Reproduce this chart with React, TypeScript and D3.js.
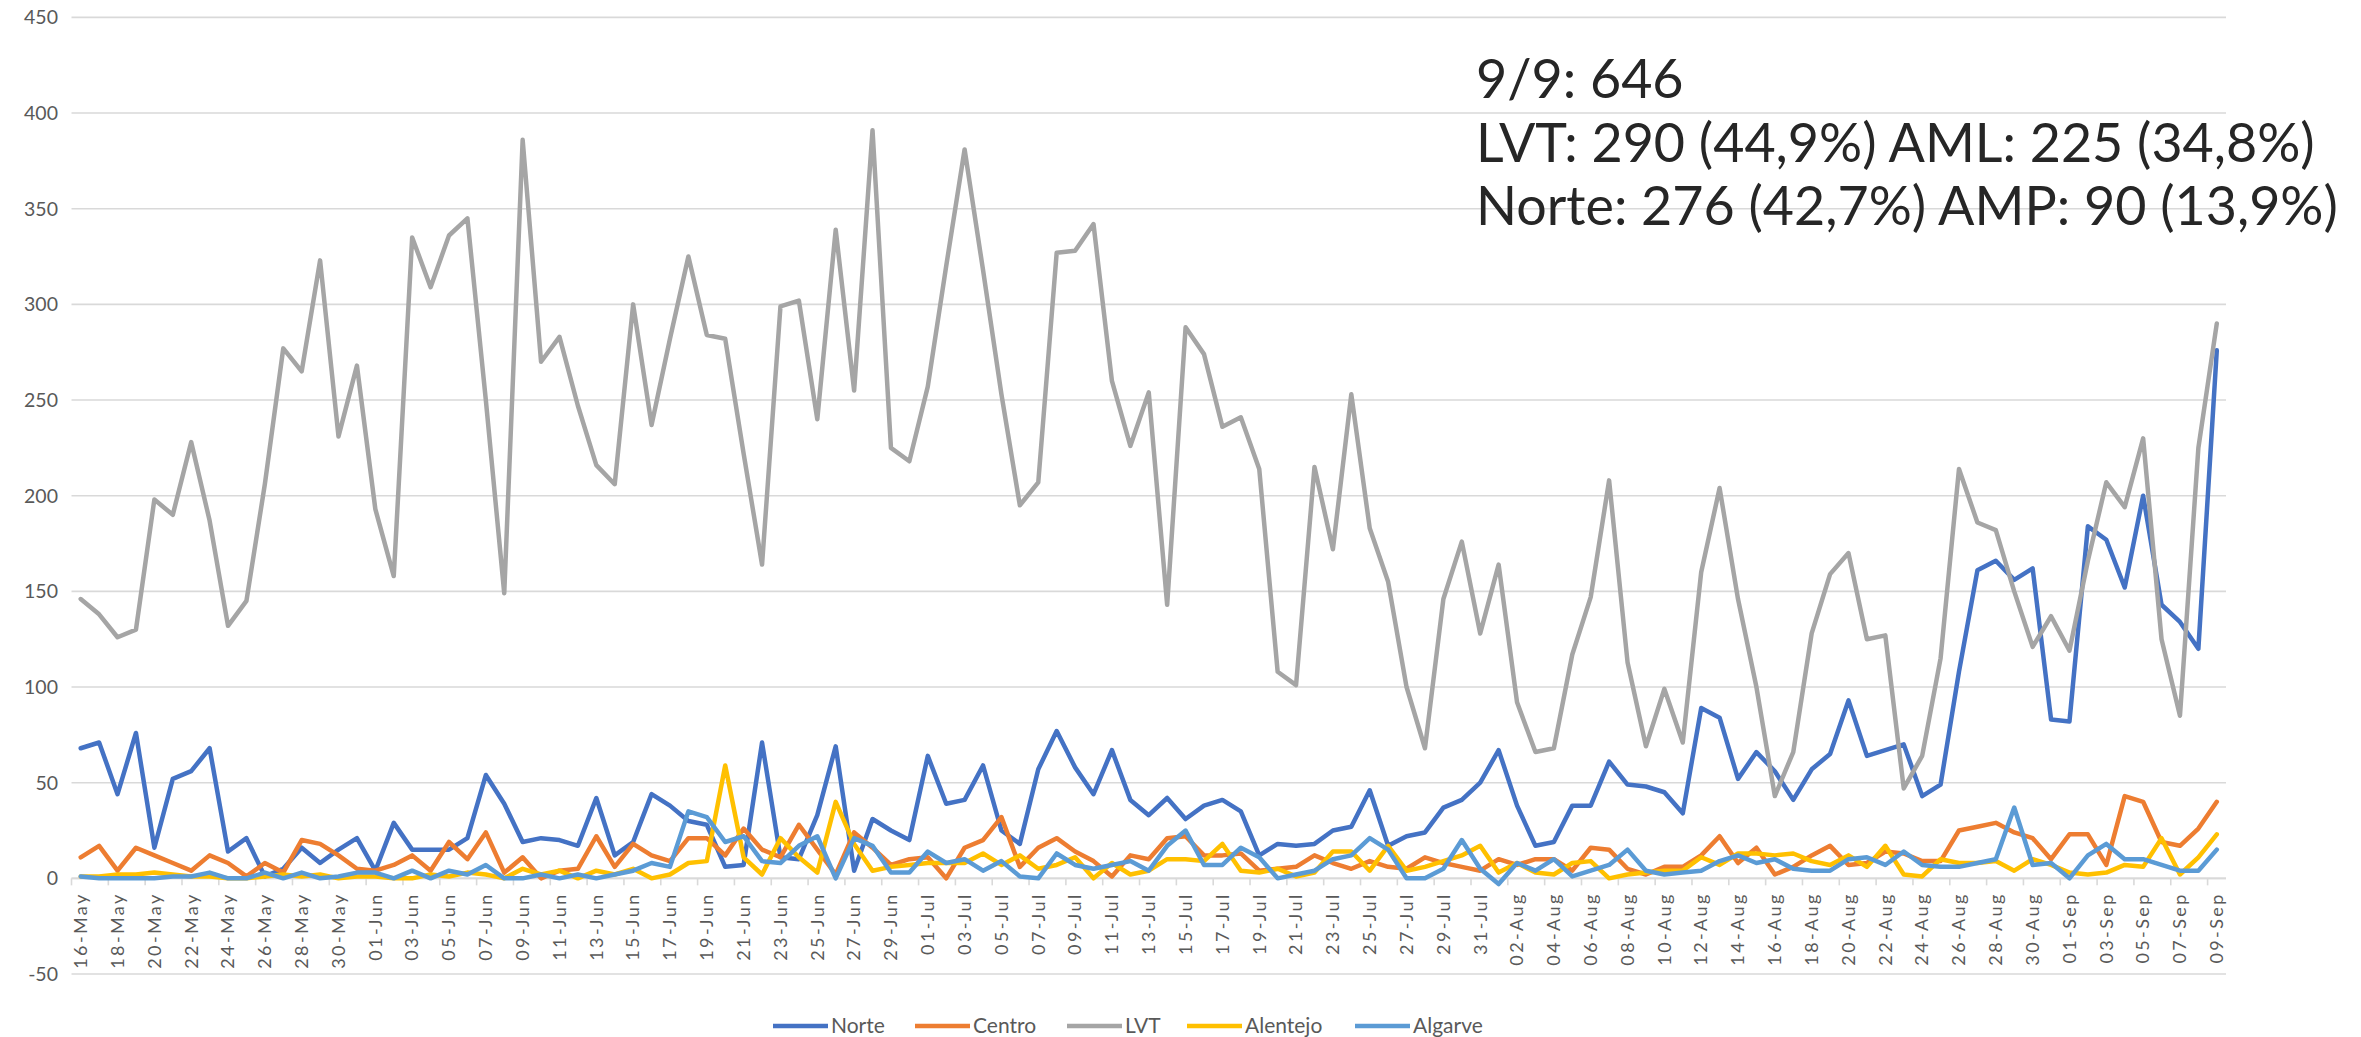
import React from "react";
import * as d3 from "d3";

// categories (one per day, 16 May - 9 Sep)
const dates = [
  "16-May", "17-May", "18-May", "19-May", "20-May", "21-May", "22-May", "23-May", "24-May", "25-May", "26-May", "27-May", "28-May", "29-May", "30-May", "31-May",
  "01-Jun", "02-Jun", "03-Jun", "04-Jun", "05-Jun", "06-Jun", "07-Jun", "08-Jun", "09-Jun", "10-Jun", "11-Jun", "12-Jun", "13-Jun", "14-Jun", "15-Jun",
  "16-Jun", "17-Jun", "18-Jun", "19-Jun", "20-Jun", "21-Jun", "22-Jun", "23-Jun", "24-Jun", "25-Jun", "26-Jun", "27-Jun", "28-Jun", "29-Jun", "30-Jun",
  "01-Jul", "02-Jul", "03-Jul", "04-Jul", "05-Jul", "06-Jul", "07-Jul", "08-Jul", "09-Jul", "10-Jul", "11-Jul", "12-Jul", "13-Jul", "14-Jul", "15-Jul",
  "16-Jul", "17-Jul", "18-Jul", "19-Jul", "20-Jul", "21-Jul", "22-Jul", "23-Jul", "24-Jul", "25-Jul", "26-Jul", "27-Jul", "28-Jul", "29-Jul", "30-Jul", "31-Jul",
  "01-Aug", "02-Aug", "03-Aug", "04-Aug", "05-Aug", "06-Aug", "07-Aug", "08-Aug", "09-Aug", "10-Aug", "11-Aug", "12-Aug", "13-Aug", "14-Aug", "15-Aug",
  "16-Aug", "17-Aug", "18-Aug", "19-Aug", "20-Aug", "21-Aug", "22-Aug", "23-Aug", "24-Aug", "25-Aug", "26-Aug", "27-Aug", "28-Aug", "29-Aug", "30-Aug", "31-Aug",
  "01-Sep", "02-Sep", "03-Sep", "04-Sep", "05-Sep", "06-Sep", "07-Sep", "08-Sep", "09-Sep",
];

const norte = [
  68, 71, 44, 76, 16, 52, 56, 68, 14, 21, 1, 5, 16, 8, 15, 21,
  4, 29, 15, 15, 15, 21, 54, 39, 19, 21, 20, 17, 42, 12, 19, 44, 38, 30, 28, 6, 7, 71, 11, 10, 33, 69, 4, 31, 25, 20,
  64, 39, 41, 59, 25, 18, 57, 77, 58, 44, 67, 41, 33, 42, 31, 38, 41, 35, 12, 18, 17, 18, 25, 27, 46, 17, 22, 24, 37, 41, 50,
  67, 38, 17, 19, 38, 38, 61, 49, 48, 45, 34, 89, 84, 52, 66, 56, 41, 57, 65, 93, 64, 67, 70, 43, 49, 108, 161, 166, 156, 162, 83,
  82, 184, 177, 152, 200, 143, 134, 120, 276,
];
const centro = [
  11, 17, 4, 16, 12, 8, 4, 12, 8, 1, 8, 3, 20, 18, 12, 5,
  4, 7, 12, 4, 19, 10, 24, 3, 11, 0, 4, 5, 22, 6, 18, 12, 9, 21, 21, 12, 26, 15, 11, 28, 15, 2, 24, 16, 7, 10,
  11, 0, 16, 20, 32, 6, 16, 21, 14, 9, 1, 12, 10, 21, 22, 12, 12, 13, 4, 5, 6, 12, 8, 5, 9, 6, 5, 11, 8, 6, 4,
  10, 7, 10, 10, 4, 16, 15, 5, 2, 6, 6, 12, 22, 8, 16, 2, 6, 12, 17, 7, 8, 14, 13, 9, 9, 25, 27, 29, 24, 21, 10,
  23, 23, 7, 43, 40, 19, 17, 26, 40,
];
const lvt = [
  146, 138, 126, 130, 198, 190, 228, 187, 132, 145, 206, 277, 265, 323, 231, 268,
  193, 158, 335, 309, 336, 345, 250, 149, 386, 270, 283, 247, 216, 206, 300, 237, 282, 325, 284, 282, 222, 164, 299, 302, 240, 339, 255, 391, 225, 218,
  257, 320, 381, 318, 253, 195, 207, 327, 328, 342, 260, 226, 254, 143, 288, 274, 236, 241, 214, 108, 101, 215, 172, 253, 183, 155, 100, 68, 146, 176, 128,
  164, 92, 66, 68, 117, 147, 208, 113, 69, 99, 71, 160, 204, 146, 100, 43, 66, 128, 159, 170, 125, 127, 47, 64, 115, 214, 186, 182, 150, 121, 137,
  119, 166, 207, 194, 230, 125, 85, 225, 290,
];
const alentejo = [
  1, 1, 2, 2, 3, 2, 1, 1, 0, 0, 1, 2, 1, 2, 0, 1,
  1, 0, 0, 2, 1, 3, 2, 0, 5, 2, 4, 0, 4, 2, 5, 0, 2, 8, 9, 59, 11, 2, 21, 11, 3, 40, 18, 4, 6, 7,
  8, 8, 8, 13, 7, 12, 5, 7, 11, 0, 8, 2, 4, 10, 10, 9, 18, 4, 3, 5, 1, 3, 14, 14, 4, 17, 4, 6, 9, 12, 17,
  3, 8, 3, 2, 8, 9, 0, 2, 3, 4, 4, 11, 7, 13, 13, 12, 13, 9, 7, 12, 6, 17, 2, 1, 10, 8, 8, 9, 4, 10, 7,
  3, 2, 3, 7, 6, 21, 2, 11, 23,
];
const algarve = [
  1, 0, 0, 0, 0, 1, 1, 3, 0, 0, 3, 0, 3, 0, 1, 3,
  3, 0, 4, 0, 4, 2, 7, 0, 0, 2, 0, 2, 0, 2, 4, 8, 6, 35, 32, 19, 22, 9, 8, 17, 22, 0, 21, 17, 3, 3,
  14, 8, 10, 4, 9, 1, 0, 13, 7, 5, 7, 9, 4, 17, 25, 7, 7, 16, 11, 0, 2, 4, 10, 12, 21, 15, 0, 0, 5, 20, 5,
  -3, 8, 4, 10, 1, 4, 7, 15, 4, 2, 3, 4, 9, 12, 8, 10, 5, 4, 4, 10, 11, 7, 14, 7, 6, 6, 8, 10, 37, 7, 8,
  0, 12, 18, 10, 10, 7, 4, 4, 15,
];

const seriesNames = ["Norte", "Centro", "LVT", "Alentejo", "Algarve"];
const seriesValues = [norte, centro, lvt, alentejo, algarve];
const seriesColors = ["#4472C4", "#ED7D31", "#A5A5A5", "#FFC000", "#5B9BD5"];

const noteLines = [
  "9/9: 646",
  "LVT: 290 (44,9%) AML: 225 (34,8%)",
  "Norte: 276 (42,7%) AMP: 90 (13,9%)",
];

const W = 2361;
const H = 1037;
const legendX = [773, 915, 1067, 1187, 1355];

const App = () => {
  const x = d3.scaleBand<string>().domain(dates).range([71.5, 2226]).padding(0);
  const cx = (d: string) => (x(d) as number) + x.bandwidth() / 2;
  const y = d3.scaleLinear().domain([-50, 450]).range([974, 17.4]);

  const line = d3
    .line<number>()
    .x((_, i) => cx(dates[i]))
    .y((v) => y(v));

  const labelDates = dates.filter((_, i) => i % 2 === 0);

  return (
    <svg
      width={W}
      height={H}
      style={{ position: "absolute", left: 0, top: 0, display: "block", background: "#fff" }}
      fontFamily="Lato, 'Noto Sans', sans-serif"
    >
      {/* grid */}
      {y.ticks(10).map((t) => (
        <g key={`g${t}`}>
          <line x1={71.5} x2={2226} y1={y(t)} y2={y(t)} stroke="#d9d9d9" strokeWidth={1.6} />
          <text x={58} y={y(t)} dy="0.35em" textAnchor="end" fontSize={19.5} fill="#595959">
            {t}
          </text>
        </g>
      ))}

      {/* category axis at zero */}
      <line x1={71.5} x2={2226} y1={y(0)} y2={y(0)} stroke="#d9d9d9" strokeWidth={1.6} />
      {labelDates.map((d) => (
        <line key={`t${d}`} x1={x(d)} x2={x(d)} y1={y(0)} y2={y(0) + 7} stroke="#d9d9d9" strokeWidth={1.6} />
      ))}
      {labelDates.map((d) => (
        <text
          key={`l${d}`}
          transform={`translate(${cx(d)},${y(0) + 14}) rotate(-90)`}
          textAnchor="end"
          dy="0.35em"
          fontSize={18}
          letterSpacing={2.4}
          fill="#595959"
        >
          {d}
        </text>
      ))}

      {/* series */}
      {seriesValues.map((vals, k) => (
        <path
          key={seriesNames[k]}
          d={line(vals) as string}
          fill="none"
          stroke={seriesColors[k]}
          strokeWidth={4.5}
          strokeLinejoin="round"
          strokeLinecap="round"
        />
      ))}

      {/* legend */}
      {seriesNames.map((name, k) => (
        <g key={`lg${name}`}>
          <line x1={legendX[k]} x2={legendX[k] + 55} y1={1026} y2={1026} stroke={seriesColors[k]} strokeWidth={4.5} />
          <text x={legendX[k] + 58} y={1026} dy="0.35em" fontSize={21} fill="#595959">
            {name}
          </text>
        </g>
      ))}

      {/* annotation */}
      {noteLines.map((t, i) => (
        <text key={`n${i}`} x={1476} y={98 + i * 63.5} fontSize={53.8} fill="#262626">
          {t}
        </text>
      ))}
    </svg>
  );
};

export default App;
